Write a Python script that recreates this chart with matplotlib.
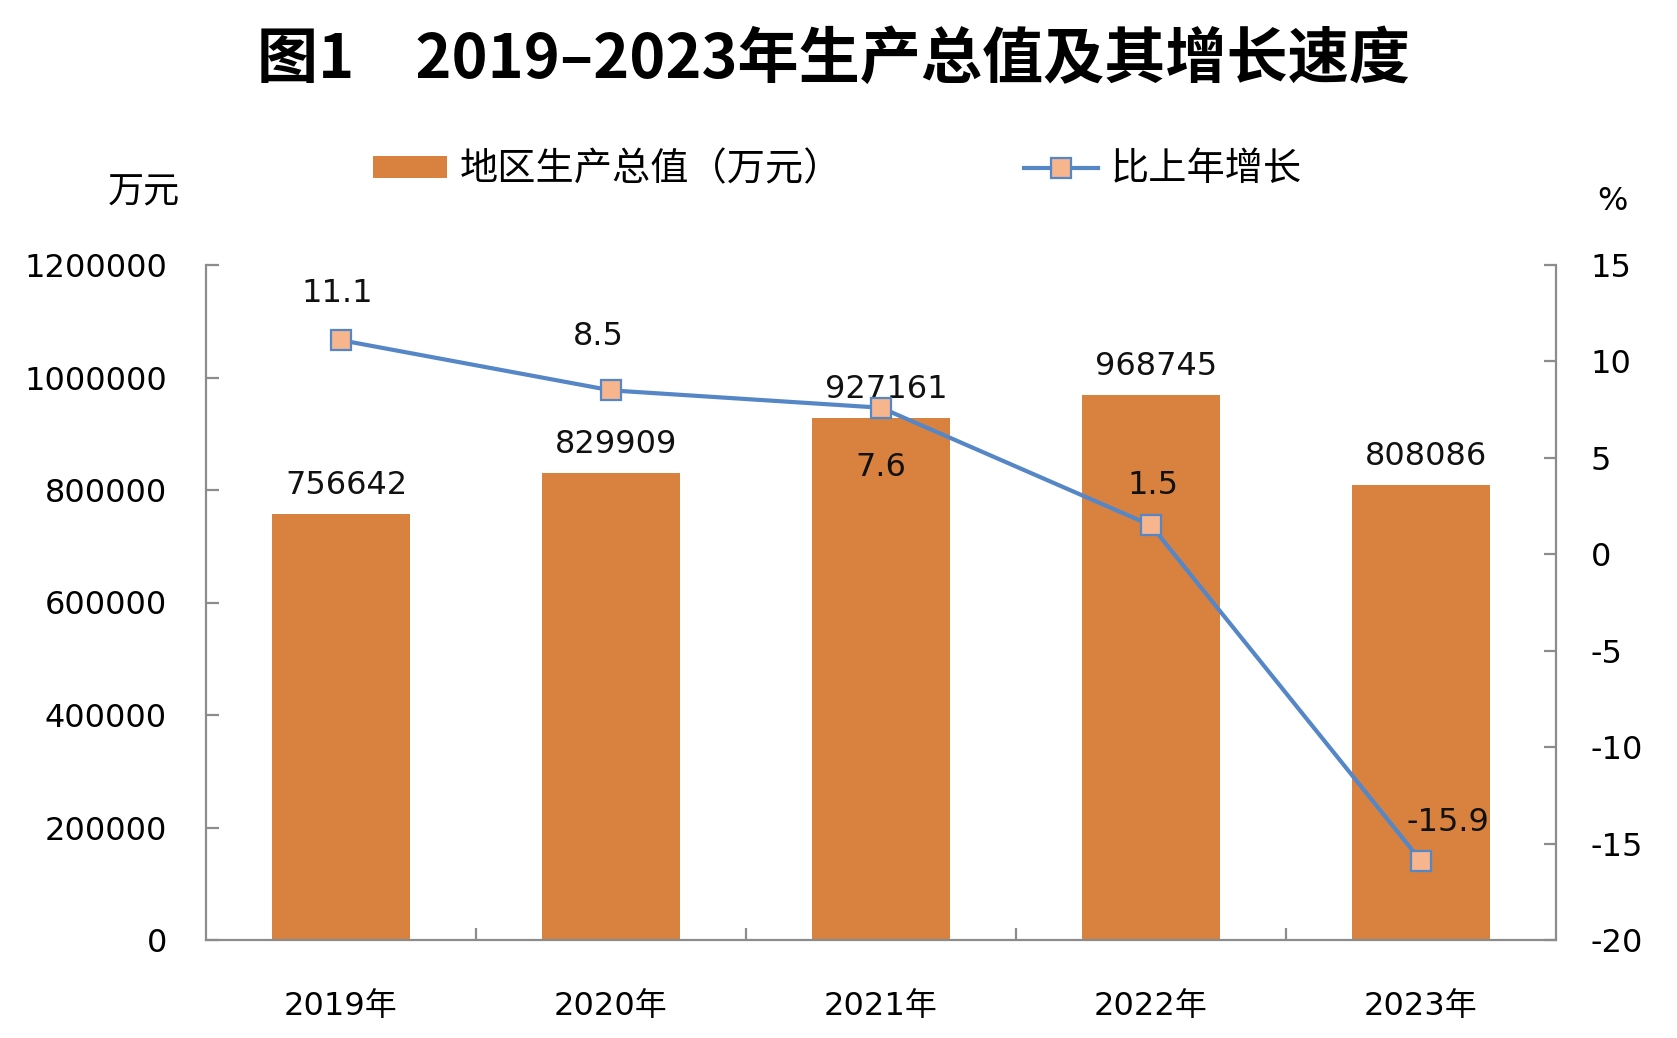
import matplotlib
matplotlib.use("Agg")
import matplotlib.pyplot as plt
from matplotlib.patches import Patch
from matplotlib.lines import Line2D
from matplotlib.ticker import FixedLocator, MultipleLocator

# ---- data ----
years = ["2019年", "2020年", "2021年", "2022年", "2023年"]
gdp = [756642, 829909, 927161, 968745, 808086]
growth = [11.1, 8.5, 7.6, 1.5, -15.9]
title = "图1　2019–2023年生产总值及其增长速度"
bar_label = "地区生产总值（万元）"
line_label = "比上年增长"
left_unit = "万元"
right_unit = "%"

# ---- styles ----
BAR_COLOR = "#D9823F"
LINE_COLOR = "#5586C6"
MARK_FACE = "#F7B58D"
AXIS_COLOR = "#8C8C8C"
NUM_FONT = ["DejaVu Sans", "Noto Sans CJK SC"]
CJK_FONT = ["Noto Sans CJK SC", "DejaVu Sans"]
growth_label_offsets = [(-4, 47), (-13, 54), (0, -60), (2, 40), (27, 38)]

plt.rcParams["font.family"] = NUM_FONT

fig = plt.figure(figsize=(16.77, 10.38), dpi=100)
ax = fig.add_axes([206 / 1677, 1 - 940 / 1038, (1556 - 206) / 1677, (940 - 265) / 1038])
ax2 = ax.twinx()

x = list(range(len(years)))
ax.bar(x, gdp, width=0.51, color=BAR_COLOR, zorder=2)
ax.set_xlim(-0.5, len(years) - 0.5)
ax.set_ylim(0, 1200000)
ax.yaxis.set_major_locator(MultipleLocator(200000))

for xi, v in zip(x, gdp):
    ax.annotate(f"{v}", (xi, v), xytext=(5, 29), textcoords="offset pixels",
                ha="center", va="center", fontsize=23, family=NUM_FONT, color="#111111")

ax2.plot(x, growth, color=LINE_COLOR, lw=3, marker="s", ms=14,
         mfc=MARK_FACE, mec=LINE_COLOR, mew=1.6, zorder=3)
ax2.set_ylim(-20, 15)
ax2.yaxis.set_major_locator(MultipleLocator(5))
for xi, v, (dx, dy) in zip(x, growth, growth_label_offsets):
    ax2.annotate(f"{v}", (xi, v), xytext=(dx, dy), textcoords="offset pixels",
                 ha="center", va="center", fontsize=23, family=NUM_FONT, color="#111111")

# spines
for a in (ax, ax2):
    for s in a.spines.values():
        s.set_color(AXIS_COLOR)
        s.set_linewidth(1.6)
ax.spines["top"].set_visible(False)
ax.spines["right"].set_visible(False)
ax2.spines["top"].set_visible(False)
ax2.spines["left"].set_visible(False)
ax2.spines["bottom"].set_visible(False)

# ticks
ax.set_xticks(x)
ax.set_xticklabels(years, family=NUM_FONT, fontsize=23)
ax.tick_params(axis="x", which="major", length=0, pad=37)
ax.xaxis.set_minor_locator(FixedLocator([i + 0.5 for i in range(len(years) - 1)]))
ax.tick_params(axis="x", which="minor", direction="in", length=9, width=1.6, color=AXIS_COLOR)
ax.tick_params(axis="y", direction="in", length=9, width=1.6, color=AXIS_COLOR,
               labelsize=23, pad=28)
ax2.tick_params(axis="y", direction="in", length=9, width=1.6, color=AXIS_COLOR,
                labelsize=23, pad=25)
ax.set_yticklabels([f"{int(t)}" for t in ax.get_yticks()])
ax2.set_yticklabels([f"{int(t)}" for t in ax2.get_yticks()])

# units
fig.text(144 / 1677, 1 - 192 / 1038, left_unit, ha="center", va="center",
         fontsize=26, family=CJK_FONT)
fig.text(1612 / 1677, 1 - 202 / 1038, right_unit, ha="center", va="center",
         fontsize=23, family=NUM_FONT)

# title
fig.text(833 / 1677, 1 - 60 / 1038, title, ha="center", va="center",
         fontsize=44, fontweight="bold", family=CJK_FONT)

# legend
handles = [Patch(facecolor=BAR_COLOR, edgecolor="none"),
           Line2D([0], [0], color=LINE_COLOR, lw=3, marker="s", ms=14,
                  mfc=MARK_FACE, mec=LINE_COLOR, mew=1.6)]
fig.legend(handles, [bar_label, line_label], loc="center left",
           bbox_to_anchor=(373 / 1677, 1 - 170 / 1038), ncol=2, frameon=False,
           prop={"family": CJK_FONT, "size": 27.5}, handlelength=1.95, handleheight=0.52,
           handletextpad=0.33, columnspacing=4.75, borderpad=0, borderaxespad=0)

fig.savefig("out.png", dpi=100)
